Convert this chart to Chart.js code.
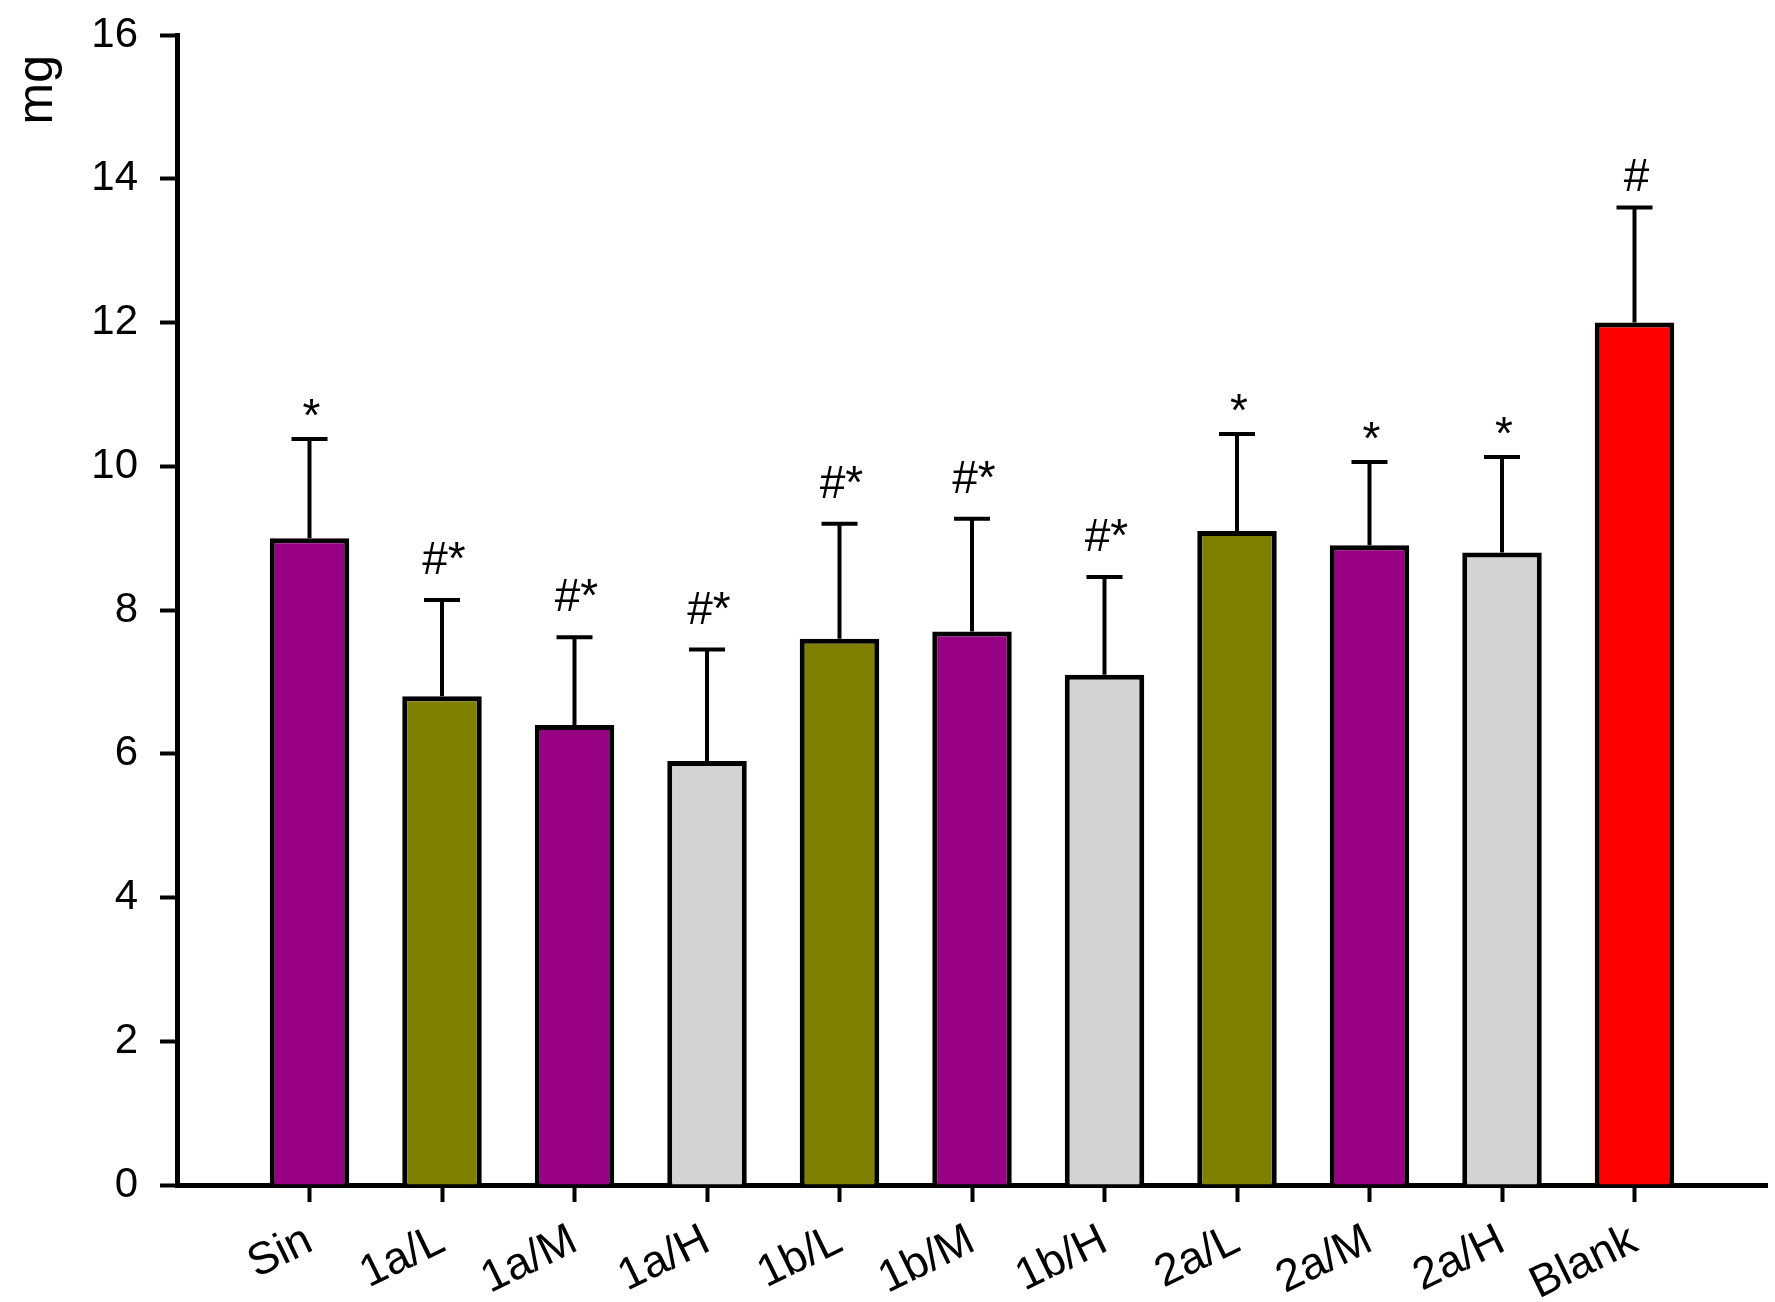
<!DOCTYPE html>
<html>
<head>
<meta charset="utf-8">
<script src="https://cdn.jsdelivr.net/npm/chart.js@4.4.1/dist/chart.umd.min.js"></script>
<style>
  html, body { margin: 0; padding: 0; background: #fff; }
  #wrap { width: 1775px; height: 1302px; }
</style>
</head>
<body>
<div id="wrap"><canvas id="bar-chart" width="1775" height="1302"></canvas></div>
<script>
// data
let categories = ['Sin', '1a/L', '1a/M', '1a/H', '1b/L', '1b/M', '1b/H', '2a/L', '2a/M', '2a/H', 'Blank'];
let means = [9.0, 6.8, 6.4, 5.9, 7.6, 7.7, 7.1, 9.1, 8.9, 8.8, 12.0];
let errors = [1.38, 1.34, 1.22, 1.55, 1.6, 1.57, 1.36, 1.35, 1.16, 1.33, 1.6];
let marks = ['*', '#*', '#*', '#*', '#*', '#*', '#*', '*', '*', '*', '#'];
let bar_colors = ['#970082', '#808000', '#970082', '#d3d3d3', '#808000', '#970082', '#d3d3d3', '#808000', '#970082', '#d3d3d3', '#ff0000'];
let y_title = 'mg';

const FONT = '"Liberation Sans", Arial, sans-serif';

// error bars (upper only), significance marks and the y title
const extras = {
    id: 'extras',
    afterDatasetsDraw(chart) {
        const ctx = chart.ctx;
        const y = chart.scales.y;
        const meta = chart.getDatasetMeta(0);
        ctx.save();
        ctx.strokeStyle = '#000';
        ctx.lineWidth = 4;
        ctx.lineCap = 'butt';
        meta.data.forEach(function (bar, i) {
            let top = y.getPixelForValue(means[i] + errors[i]);
            let base = y.getPixelForValue(means[i]);
            ctx.beginPath();
            ctx.moveTo(bar.x, base);
            ctx.lineTo(bar.x, top);
            ctx.moveTo(bar.x - 18, top);
            ctx.lineTo(bar.x + 18, top);
            ctx.stroke();

            // marks sit a little above the cap
            let lift = marks[i] === '*' ? 8 : (marks[i] === '#' ? 17 : 26);
            ctx.fillStyle = '#000';
            ctx.font = '46px ' + FONT;
            ctx.textAlign = 'center';
            ctx.textBaseline = 'alphabetic';
            ctx.fillText(marks[i], bar.x + 2, top - lift);
        });

        // y title, read bottom to top at the top of the axis
        ctx.translate(chart.chartArea.left - 125, chart.chartArea.top + 20);
        ctx.rotate(-Math.PI / 2);
        ctx.font = '50px ' + FONT;
        ctx.textAlign = 'right';
        ctx.textBaseline = 'alphabetic';
        ctx.fillText(y_title, 0, 0);
        ctx.restore();
    }
};

let myChart = new Chart(document.getElementById('bar-chart').getContext('2d'), {
    type: 'bar',
    data: {
        datasets: [{
            data: means.map(function (v, i) { return { x: i + 1, y: v }; }),
            backgroundColor: bar_colors,
            borderColor: '#000',
            borderWidth: 5,
            borderSkipped: 'bottom',
            barPercentage: 0.6,
            categoryPercentage: 1.0
        }]
    },
    options: {
        responsive: false,
        animation: false,
        devicePixelRatio: 1,
        layout: {
            padding: { top: 35, right: 8, left: 0, bottom: 0 }
        },
        plugins: {
            legend: { display: false },
            tooltip: { enabled: false },
            title: { display: false }
        },
        scales: {
            x: {
                type: 'linear',
                min: 0,
                max: categories.length + 1,
                offset: false,
                afterFit: function (scale) {
                    scale.height = 117;
                    scale.paddingLeft = 0;
                    scale.paddingRight = 0;
                },
                border: { display: true, color: '#000', width: 5 },
                grid: {
                    offset: false,
                    drawOnChartArea: false,
                    drawTicks: true,
                    tickLength: 17,
                    tickWidth: 4,
                    tickColor: function (c) {
                        let v = c.tick ? c.tick.value : 0;
                        return (v >= 1 && v <= categories.length) ? '#000' : 'rgba(0,0,0,0)';
                    }
                },
                ticks: {
                    stepSize: 1,
                    autoSkip: false,
                    maxRotation: 26,
                    minRotation: 26,
                    padding: 12,
                    color: '#000',
                    font: { family: FONT, size: 45 },
                    callback: function (value) {
                        return categories[value - 1] || '';
                    }
                }
            },
            y: {
                min: 0,
                max: 16,
                afterFit: function (scale) {
                    scale.width = 177;
                    scale.paddingTop = 0;
                    scale.paddingBottom = 0;
                },
                border: { display: true, color: '#000', width: 5 },
                grid: {
                    drawOnChartArea: false,
                    drawTicks: true,
                    tickLength: 17,
                    tickWidth: 4,
                    tickColor: '#000'
                },
                ticks: {
                    stepSize: 2,
                    padding: 22,
                    color: '#000',
                    font: { family: FONT, size: 42 }
                }
            }
        }
    },
    plugins: [extras]
});
</script>
</body>
</html>
